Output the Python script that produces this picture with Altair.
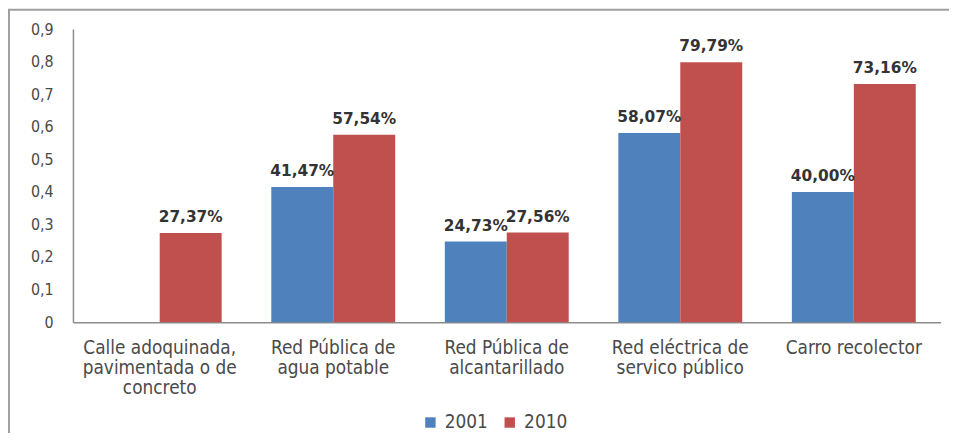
import altair as alt
import pandas as pd

categories = [
    "Calle adoquinada,|pavimentada o de|concreto",
    "Red Pública de|agua potable",
    "Red Pública de|alcantarillado",
    "Red eléctrica de|servico público",
    "Carro recolector",
]
years = ["2001", "2010"]
values_2001 = [None, 0.4147, 0.2473, 0.5807, 0.4000]
values_2010 = [0.2737, 0.5754, 0.2756, 0.7979, 0.7316]
y_ticks = [0, 0.1, 0.2, 0.3, 0.4, 0.5, 0.6, 0.7, 0.8, 0.9]
colors = ["#4F81BD", "#C0504D"]

rows = []
for cat, v1, v2 in zip(categories, values_2001, values_2010):
    for yr, v in zip(years, [v1, v2]):
        lab = None if v is None else (f"{v*100:.2f}".replace(".", ",") + "%")
        rows.append({"cat": cat, "year": yr, "value": v, "label": lab})
df = pd.DataFrame(rows)

FONT = "Liberation Sans Narrow, DejaVu Sans Condensed, Liberation Sans, sans-serif"

xaxis = alt.Axis(labelExpr="split(datum.label, '|')", labelAngle=0,
                 labelFont=FONT, labelFontSize=19, labelColor="#4a4a4a",
                 labelLineHeight=20, labelPadding=17, ticks=False,
                 labelOverlap=False, labelLimit=300,
                 domainColor="#8c8c8c", domainWidth=1.5, labelBaseline="top")
yaxis = alt.Axis(values=y_ticks,
                 labelExpr="replace(format(datum.value, '.1~f'), '.', ',')",
                 labelFont=FONT, labelFontSize=16, labelColor="#4a4a4a",
                 labelPadding=20, ticks=False, grid=False, labelOverlap=False,
                 labelFlush=False,
                 domainColor="#8c8c8c", domainWidth=1.5)
xscale = alt.Scale(paddingInner=0.286, paddingOuter=0.143)
yscale = alt.Scale(domain=[0, 0.9], nice=False, zero=True)

xenc = alt.X("cat:N", sort=categories, title=None, scale=xscale, axis=xaxis)
yenc = alt.Y("value:Q", title=None, scale=yscale, axis=yaxis)

bars = alt.Chart(df).mark_bar().encode(
    x=xenc,
    xOffset=alt.XOffset("year:N", sort=years),
    y=yenc,
    color=alt.Color("year:N", sort=years, title=None,
                    scale=alt.Scale(domain=years, range=colors),
                    legend=alt.Legend(orient="none", legendX=351, legendY=387,
                                      direction="horizontal", symbolType="square",
                                      symbolSize=110, symbolStrokeWidth=0,
                                      labelFont=FONT, labelFontSize=19,
                                      labelColor="#4a4a4a", columnPadding=12,
                                      labelOffset=5)),
)

texts = alt.Chart(df).transform_filter("datum.value != null").mark_text(
    font="DejaVu Sans", fontWeight="bold", fontSize=15.5, color="#333333",
    baseline="alphabetic", dy=-11,
).encode(
    x=xenc,
    xOffset=alt.XOffset("year:N", sort=years),
    y=yenc,
    text="label:N",
)

one = pd.DataFrame({"a": [0]})
left_border = alt.Chart(one).mark_rule(color="#a0a0a0", strokeWidth=2).encode(
    x=alt.value(-64.5), y=alt.value(-19.5), y2=alt.value(420))
top_border = alt.Chart(one).mark_rule(color="#a0a0a0", strokeWidth=2).encode(
    x=alt.value(-65.5), x2=alt.value(890), y=alt.value(-19.5))

chart = alt.layer(bars, texts, left_border, top_border).properties(
    width=875, height=295.5,
    background="white",
    autosize=alt.AutoSizeParams(type="none"),
    padding={"left": 65.5, "top": 19.5, "right": 8.5, "bottom": 110},
).configure_view(strokeWidth=0)

chart.save("out.html", embed_options={"renderer": "svg", "actions": False})
